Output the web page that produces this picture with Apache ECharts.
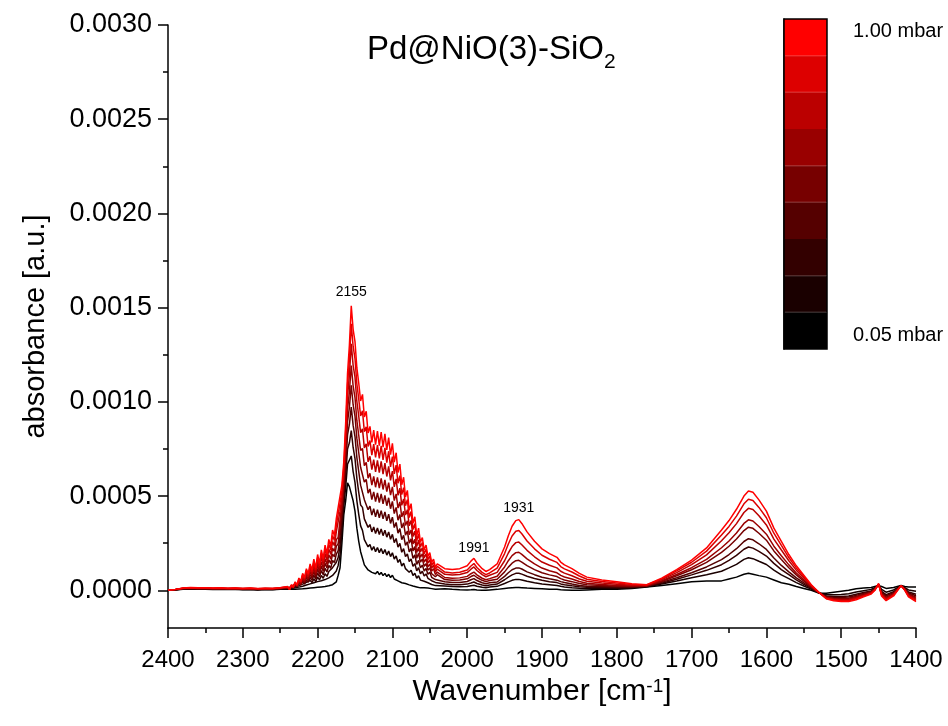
<!DOCTYPE html>
<html><head><meta charset="utf-8">
<script src="https://cdn.jsdelivr.net/npm/echarts/dist/echarts.min.js"></script>
<style>html,body{margin:0;padding:0;background:#fff}#c{width:948px;height:726px}</style>
</head><body><div id="c"></div>
<script>
// ---------- wavenumber grid [cm-1] ----------
const wnLow = [2400,2390,2380,2370,2360,2350,2340,2330,2320,2310,2300,2290,2280,2270,2260,2250];
const wnGasBand = [2240,2237.5,2235,2232.5,2230,2227.5,2225,2222.5,2220,2217.5,
  2215,2212.5,2210,2207.5,2205,2202.5,2200,2197.5,2195,2192.5,
  2190,2187.5,2185,2182.5,2180,2177.5,2175,2172.5,2170,2167.5,
  2165,2162.5,2160,2157.5,2155,2152.5,2150,2147.5,2145,2142.5,
  2140,2137.5,2135,2132.5,2130,2127.5,2125,2122.5,2120,2117.5,
  2115,2112.5,2110,2107.5,2105,2102.5,2100,2097.5,2095,2092.5,
  2090,2087.5,2085,2082.5,2080,2077.5,2075,2072.5,2070,2067.5,
  2065,2062.5,2060,2057.5,2055,2052.5,2050,2047.5,2045,2042.5,2040];
const wnHigh = [2030,2020,2010,2000,1995,1991,1987,1980,1975,1970,
  1960,1950,1945,1940,1935,1931,1927,1920,1910,1900,
  1890,1880,1875,1870,1860,1850,1840,1820,1800,1780,
  1760,1740,1720,1700,1680,1660,1650,1640,1630,1624,
  1618,1610,1600,1590,1580,1570,1560,1550,1540,1530,
  1520,1510,1500,1490,1480,1470,1460,1455,1450,1446,
  1440,1430,1420,1415,1410,1400];

// ---------- absorbance, in units of 1e-4 a.u. (low-wn part / gas band / high part) ----------
const abs_p1 = [ // 0.05 mbar
  0,.02,.06,.07,.05,.06,.04,.05,.04,.05,.03,.04,.02,.04,.03,.05,
  .05,.02,.05,.03,.06,.04,.07,.05,.08,.06, .1,.08,.12,.1,.14,.12,.16,.14,.18,.16,
  .2,.19,.24,.24,.3,.35,.45,.8,1.2,2.5, 4.0,4.75,5.7,5.5,5.5,4.75,4.2,3.3,2.6,2.05,
  1.7,1.35,1.3,1.08,1.15,.95,1.05,.88,1.0,.83, .95,.78,.9,.73,.85,.68,.8,.6,.7,.5,
  .6,.4,.5,.36,.42,.29,.35,.23,.3,.18, .25,.13,.2,.14,.18,.12,.15,.09,.12,.06, .1,
  .08,.05,.03,.02,.03,.04,.02,0,0,.02, .05,.1,.12,.14,.15,.15,.14,.12,.1,.08,
  .06,.05,.03,.02,0,0,.02,.05,.05,.1, .18,.25,.35,.45,.5,.5,.6,.7,.85,.9,
  .85,.78,.7,.55,.4,.32,.2,.1,0,-.15, -.15,-.1,-.05,0,.08,.12,.15,.2,.25,.2,
  .1,.15,.25,.2,.18,.18];
const abs_p2 = [
  0,.03,.07,.08,.06,.07,.05,.06,.05,.06,.04,.05,.03,.05,.04,.07,
  .08,.03,.09,.05,.13,.08,.17,.12,.22,.16, .28,.21,.34,.27,.40,.31,.46,.37,.51,.42,
  .57,.50,.66,.61,.79,.79,1.02,1.32,1.85,3.04, 4.48,5.46,6.69,6.78,7.13,6.3,5.73,4.75,4.03,3.42,
  3.18,2.69,2.69,2.31,2.43,2.13,2.32,2.05,2.27,2.0, 2.22,1.94,2.16,1.87,2.08,1.79,1.99,1.66,1.82,1.48,
  1.64,1.29,1.44,1.15,1.25,.96,1.07,.79,.91,.64, .77,.54,.64,.48,.56,.40,.46,.31,.38,.25, .32,
  .23,.20,.19,.2,.24,.27,.22,.16,.14,.17, .21,.36,.45,.53,.58,.58,.55,.48,.4,.33,
  .29,.25,.21,.18,.14,.11,.1,.11,.1,.13, .19,.33,.49,.67,.83,1.01,1.19,1.38,1.64,1.73,
  1.68,1.54,1.37,1.07,.82,.62,.41,.23,.06,-.14, -.24,-.24,-.22,-.18,-.09,-.02,.05,.14,.28,.05,
  -.1,.02,.25,.14,.02,-.05];
const abs_p3 = [
  0,.03,.08,.09,.07,.08,.06,.07,.06,.07,.05,.06,.04,.06,.05,.08,
  .10,.04,.13,.08,.18,.12,.25,.18,.33,.25, .43,.34,.52,.41,.61,.46,.70,.55,.79,.64,
  .88,.74,1.0,.90,1.2,1.14,1.49,1.74,2.38,3.47, 4.87,6.03,7.5,7.83,8.48,7.58,6.99,5.94,5.2,4.53,
  4.4,3.79,3.84,3.34,3.49,3.10,3.36,3.01,3.31,2.96, 3.26,2.90,3.19,2.82,3.1,2.71,2.97,2.53,2.75,2.29,
  2.49,2.02,2.21,1.79,1.93,1.52,1.67,1.27,1.42,1.03, 1.2,.88,1.01,.76,.87,.64,.72,.51,.59,.42, .50,
  .34,.30,.30,.33,.39,.44,.36,.28,.24,.28, .33,.56,.70,.82,.90,.91,.86,.75,.63,.53,
  .46,.41,.34,.30,.24,.19,.16,.16,.13,.15, .21,.38,.59,.82,1.06,1.36,1.59,1.85,2.18,2.3,
  2.24,2.07,1.82,1.43,1.1,.83,.55,.32,.1,-.13, -.3,-.33,-.33,-.3,-.21,-.12,-.03,.1,.3,-.05,
  -.23,-.08,.25,.1,-.09,-.21];
const abs_p4 = [
  0,.03,.09,.11,.09,.10,.08,.09,.07,.08,.06,.08,.05,.07,.06,.09,
  .12,.04,.16,.10,.23,.16,.33,.25,.44,.33, .56,.43,.68,.53,.80,.59,.93,.71,1.05,.83,
  1.17,.97,1.32,1.17,1.58,1.47,1.92,2.11,2.87,3.86, 5.23,6.55,8.25,8.8,9.72,8.75,8.16,7.04,6.3,5.58,
  5.53,4.81,4.91,4.28,4.47,3.99,4.33,3.90,4.28,3.85, 4.23,3.79,4.16,3.69,4.04,3.55,3.88,3.33,3.6,3.03,
  3.28,2.69,2.92,2.39,2.57,2.04,2.22,1.69,1.88,1.38, 1.59,1.19,1.34,1.02,1.16,.85,.96,.69,.79,.57, .67,
  .45,.42,.42,.47,.56,.62,.52,.40,.35,.40, .44,.74,.93,1.09,1.18,1.19,1.13,.98,.83,.69,
  .61,.54,.46,.41,.33,.26,.22,.2,.17,.17, .21,.42,.67,.93,1.24,1.63,1.9,2.21,2.59,2.74,
  2.68,2.47,2.17,1.71,1.32,.98,.66,.39,.13,-.12, -.33,-.37,-.38,-.36,-.27,-.16,-.06,.08,.31,-.1,
  -.29,-.12,.25,.08,-.14,-.29];
const abs_p5 = [
  0,.04,.09,.11,.09,.10,.08,.09,.08,.09,.07,.08,.06,.08,.07,.10,
  .13,.03,.19,.11,.28,.18,.39,.28,.54,.41, .69,.53,.84,.65,.99,.71,1.13,.86,1.28,1.01,
  1.43,1.18,1.62,1.42,1.92,1.78,2.33,2.48,3.33,4.24, 5.57,7.05,8.95,9.7,10.88,9.85,9.24,8.06,7.3,6.53,
  6.57,5.74,5.89,5.15,5.38,4.81,5.22,4.71,5.17,4.66, 5.12,4.59,5.04,4.49,4.91,4.33,4.72,4.07,4.4,3.72,
  4.02,3.31,3.58,2.93,3.15,2.50,2.73,2.09,2.32,1.70, 1.96,1.49,1.66,1.27,1.42,1.07,1.19,.88,.98,.72, .83,
  .57,.53,.55,.61,.73,.80,.68,.53,.46,.52, .59,.98,1.23,1.44,1.57,1.59,1.50,1.31,1.1,.93,
  .82,.73,.62,.55,.46,.36,.29,.25,.21,.2, .23,.47,.77,1.09,1.48,2.01,2.34,2.72,3.17,3.35,
  3.29,3.03,2.66,2.09,1.63,1.2,.82,.49,.17,-.12, -.36,-.42,-.44,-.42,-.33,-.21,-.1,.06,.32,-.15,
  -.36,-.17,.25,.06,-.19,-.37];
const abs_p6 = [
  0,.04,.10,.12,.10,.11,.09,.10,.09,.10,.08,.09,.07,.09,.08,.11,
  .15,.04,.22,.12,.32,.21,.46,.34,.63,.47, .80,.61,.98,.76,1.15,.83,1.33,1.01,1.5,1.18,
  1.67,1.37,1.89,1.66,2.24,2.06,2.69,2.81,3.75,4.59, 5.88,7.51,9.59,10.53,11.93,10.85,10.23,9.0,8.23,7.42,
  7.53,6.61,6.79,5.95,6.21,5.58,6.04,5.47,5.99,5.42, 5.94,5.35,5.86,5.24,5.71,5.05,5.49,4.76,5.12,4.36,
  4.69,3.89,4.19,3.44,3.69,2.95,3.2,2.46,2.71,2.0, 2.29,1.75,1.94,1.49,1.67,1.25,1.39,1.02,1.15,.84, .97,
  .68,.64,.66,.74,.88,.97,.82,.64,.56,.62, .75,1.24,1.57,1.84,2.0,2.02,1.91,1.67,1.4,1.18,
  1.04,.93,.79,.71,.6,.47,.37,.31,.26,.23, .24,.51,.84,1.2,1.64,2.26,2.62,3.04,3.55,3.74,
  3.68,3.39,2.98,2.34,1.83,1.35,.92,.56,.2,-.11, -.38,-.45,-.48,-.47,-.37,-.25,-.12,.04,.33,-.19,
  -.41,-.2,.25,.04,-.23,-.43];
const abs_p7 = [
  0,.04,.11,.13,.11,.12,.10,.11,.10,.11,.09,.10,.08,.10,.09,.12,
  .17,.04,.25,.14,.37,.25,.53,.39,.73,.55, .93,.71,1.13,.87,1.33,.95,1.53,1.16,1.74,1.36,
  1.94,1.58,2.18,1.91,2.59,2.37,3.10,3.17,4.2,4.95, 6.21,7.99,10.28,11.42,13.08,11.94,11.31,10.02,9.24,8.37,
  8.57,7.55,7.78,6.82,7.11,6.40,6.94,6.29,6.89,6.24, 6.84,6.17,6.75,6.04,6.58,5.83,6.33,5.49,5.91,5.04,
  5.42,4.51,4.85,3.99,4.28,3.42,3.71,2.85,3.14,2.32, 2.66,2.04,2.25,1.72,1.93,1.44,1.61,1.18,1.33,.98, 1.13,
  .85,.81,.84,.94,1.12,1.24,1.05,.83,.72,.80, .95,1.57,1.98,2.32,2.53,2.56,2.42,2.12,1.78,1.5,
  1.33,1.19,1.01,.91,.77,.6,.48,.39,.32,.27, .26,.57,.94,1.36,1.88,2.63,3.05,3.54,4.13,4.35,
  4.29,3.96,3.47,2.72,2.14,1.57,1.07,.65,.24,-.11, -.41,-.48,-.52,-.51,-.41,-.28,-.15,.03,.34,-.23,
  -.45,-.23,.25,.03,-.27,-.48];
const abs_p8 = [
  0,.05,.11,.14,.12,.13,.11,.12,.10,.11,.09,.11,.08,.10,.09,.13,
  .19,.06,.28,.17,.41,.27,.59,.44,.82,.62, 1.05,.80,1.27,.98,1.5,1.08,1.73,1.30,1.95,1.53,
  2.18,1.78,2.45,2.14,2.91,2.65,3.47,3.51,4.62,5.29, 6.52,8.44,10.92,12.25,14.14,12.94,12.3,10.95,10.16,9.25,
  9.53,8.42,8.68,7.63,7.95,7.17,7.76,7.05,7.71,7.0, 7.66,6.92,7.56,6.78,7.38,6.55,7.1,6.18,6.64,5.68,
  6.09,5.08,5.45,4.49,4.81,3.86,4.18,3.22,3.54,2.63, 3.0,2.30,2.54,1.94,2.18,1.63,1.82,1.33,1.5,1.11, 1.27,
  .97,.92,.96,1.08,1.29,1.42,1.21,.95,.83,.92, 1.18,1.95,2.46,2.88,3.13,3.17,3.0,2.62,2.2,1.86,
  1.65,1.48,1.26,1.14,.97,.76,.59,.47,.39,.31, .28,.61,1.03,1.49,2.08,2.93,3.39,3.94,4.59,4.83,
  4.77,4.4,3.85,3.03,2.38,1.74,1.19,.73,.27,-.1, -.43,-.51,-.56,-.55,-.45,-.31,-.17,.02,.34,-.26,
  -.5,-.26,.25,.02,-.31,-.54];
const abs_p9 = [ // 1.00 mbar
  0,.05,.12,.15,.13,.14,.12,.13,.11,.12,.10,.12,.09,.11,.10,.14,
  .2,.05,.3,.18,.45,.3,.65,.48,.9,.68, 1.15,.88,1.4,1.08,1.65,1.18,1.9,1.43,2.15,1.68,
  2.4,1.95,2.7,2.35,3.2,2.9,3.8,3.8,5.0,5.6, 6.8,8.85,11.5,13.0,15.1,13.85,13.2,11.8,11.0,10.05,
  10.4,9.2,9.5,8.35,8.7,7.85,8.5,7.73,8.45,7.68, 8.4,7.6,8.3,7.45,8.1,7.2,7.8,6.8,7.3,6.25,
  6.7,5.6,6.0,4.95,5.3,4.25,4.6,3.55,3.9,2.9, 3.3,2.55,2.8,2.15,2.4,1.8,2.0,1.48,1.65,1.23, 1.4,
  1.15,1.1,1.15,1.3,1.55,1.7,1.45,1.15,1.0,1.1, 1.4,2.3,2.9,3.4,3.7,3.75,3.55,3.1,2.6,2.2,
  1.95,1.75,1.5,1.35,1.15,.9,.7,.55,.45,.35, .3,.65,1.1,1.6,2.25,3.2,3.7,4.3,5.0,5.27,
  5.2,4.8,4.2,3.3,2.6,1.9,1.3,.8,.3,-.1, -.45,-.55,-.6,-.6,-.5,-.35,-.2,0,.35,-.3,
  -.55,-.3,.25,0,-.35,-.6];

const spectra = [abs_p1, abs_p2, abs_p3, abs_p4, abs_p5, abs_p6, abs_p7, abs_p8, abs_p9];
const levelColors = ['#000000','#1a0000','#330000','#550000','#770000','#990000','#bb0000','#dd0000','#ff0000'];
const levelNames = ['0.05 mbar','p2','p3','p4','p5','p6','p7','p8','1.00 mbar'];
const yMajorTicks = [0, 0.0005, 0.001, 0.0015, 0.002, 0.0025, 0.003];
const yMinorTicks = [0.00025, 0.00075, 0.00125, 0.00175, 0.00225, 0.00275];
const peakLabels = ['2155', '1991', '1931'];
const peakWn = [2155, 1991, 1931];
const peakAbs = [0.00151, 0.00017, 0.000375];
const E4 = 1e-4;

const wavenumbers = wnLow.concat(wnGasBand, wnHigh);
spectra.forEach((s, i) => { if (s.length !== wavenumbers.length) throw new Error('series ' + i + ' has ' + s.length + ' vs ' + wavenumbers.length); });

const FONT = "'Liberation Sans', Arial, sans-serif";

const lineSeries = spectra.map((vals, i) => ({
  type: 'line', xAxisIndex: 0, yAxisIndex: 0,
  data: wavenumbers.map((w, k) => [w, vals[k] * E4]),
  showSymbol: false, symbol: 'none', silent: true,
  lineStyle: { color: levelColors[i], width: 1.5 },
  itemStyle: { color: levelColors[i] },
  z: 2 + i
}));
const labelDist = [6, 3, 4];
lineSeries[8].markPoint = {
  symbol: 'circle', symbolSize: 1, silent: true,
  itemStyle: { color: 'rgba(0,0,0,0)' },
  label: { show: true, position: 'top', color: '#000', fontSize: 14, fontFamily: FONT },
  data: peakLabels.map((t, i) => ({ coord: [peakWn[i], peakAbs[i]], label: { formatter: t, distance: labelDist[i] } }))
};

const chart = echarts.init(document.getElementById('c'), null, { renderer: 'canvas' });
chart.setOption({
  animation: false,
  backgroundColor: '#fff',
  title: {
    text: '{a|Pd@NiO(3)-SiO}{b|2}', left: 362, top: 22,
    textStyle: { fontWeight: 'normal', rich: {
      a: { fontSize: 33, fontWeight: 'normal', color: '#000', fontFamily: FONT, lineHeight: 36 },
      b: { fontSize: 21, fontWeight: 'normal', color: '#000', fontFamily: FONT, verticalAlign: 'bottom', lineHeight: 46 }
    } }
  },
  grid: [
    { left: 168, right: 32, top: 25, bottom: 98, containLabel: false },
    { left: 784, top: 19, width: 43, height: 330, show: true, z: 5, backgroundColor: 'rgba(0,0,0,0)', borderColor: '#000', borderWidth: 1.5 }
  ],
  xAxis: [
    {
      type: 'value', gridIndex: 0, min: 1400, max: 2400, interval: 100, inverse: true, position: 'bottom',
      axisLine: { show: true, onZero: false, lineStyle: { color: '#000', width: 1.5 } },
      axisTick: { show: true, inside: false, length: 10, lineStyle: { color: '#000', width: 1.5 } },
      minorTick: { show: true, splitNumber: 2, length: 5, lineStyle: { color: '#000', width: 1.5 } },
      axisLabel: { fontSize: 24, color: '#000', fontFamily: FONT, margin: 20, formatter: v => String(v) },
      splitLine: { show: false },
      name: 'Wavenumber [cm{sup|-1}]', nameLocation: 'middle', nameGap: 40,
      nameTextStyle: { fontSize: 30, color: '#000', fontFamily: FONT,
        rich: { sup: { fontSize: 19, color: '#000', fontFamily: FONT, verticalAlign: 'top', lineHeight: 24 } } }
    },
    { type: 'value', gridIndex: 1, min: 0, max: 1, show: false }
  ],
  yAxis: [
    {
      type: 'value', gridIndex: 0, min: -0.0002, max: 0.003,
      axisLine: { show: true, onZero: false, lineStyle: { color: '#000', width: 1.5 } },
      axisTick: { show: true, inside: false, length: 10, customValues: yMajorTicks, lineStyle: { color: '#000', width: 1.5 } },
      axisLabel: { show: true, customValues: yMajorTicks, formatter: v => v.toFixed(4), fontSize: 27, color: '#000', fontFamily: FONT, margin: 16 },
      splitLine: { show: false },
      name: 'absorbance [a.u.]', nameLocation: 'middle', nameGap: 118,
      nameTextStyle: { fontSize: 29, color: '#000', fontFamily: FONT }
    },
    {
      type: 'value', gridIndex: 0, min: -0.0002, max: 0.003, position: 'left',
      axisLine: { show: false },
      axisTick: { show: true, inside: false, length: 5, customValues: yMinorTicks, lineStyle: { color: '#000', width: 1.5 } },
      axisLabel: { show: false }, splitLine: { show: false }
    },
    {
      type: 'category', gridIndex: 1, data: levelNames, position: 'right',
      axisLine: { show: true, lineStyle: { color: '#000', width: 1.5 } },
      axisTick: { show: true, inside: false, alignWithLabel: true, length: 12, lineStyle: { color: '#000', width: 1.5 } },
      axisLabel: { show: true, interval: 0, margin: 26, fontSize: 20, color: '#000', fontFamily: FONT,
        formatter: (v, idx) => idx === 0 ? '{lo|' + v + '}' : (idx === levelNames.length - 1 ? '{hi|' + v + '}' : ''),
        rich: { hi: { fontSize: 20, color: '#000', fontFamily: FONT, padding: [0, 0, 12, 0] },
                lo: { fontSize: 20, color: '#000', fontFamily: FONT, padding: [10, 0, 0, 0] } } },
      splitLine: { show: false }
    }
  ],
  series: lineSeries.concat([{
    type: 'bar', xAxisIndex: 1, yAxisIndex: 2, barWidth: '100%', barCategoryGap: '0%', silent: true,
    data: levelColors.map(c => ({ value: 1, itemStyle: { color: c, borderColor: c, borderWidth: 1 } })), z: 1
  }])
});
</script></body></html>
